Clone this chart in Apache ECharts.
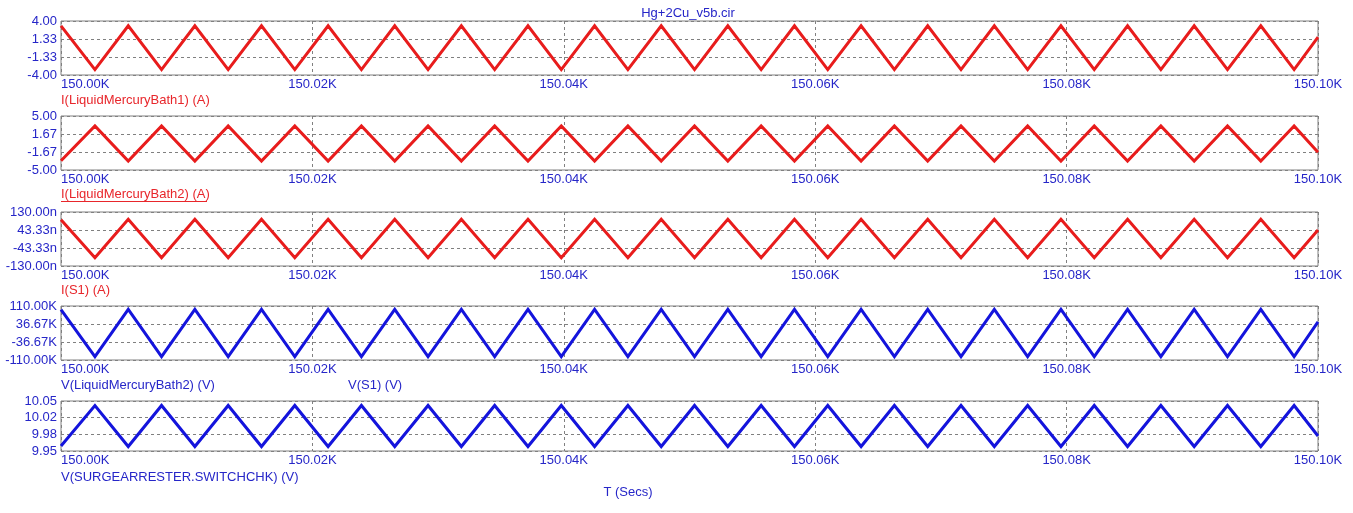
<!DOCTYPE html>
<html>
<head>
<meta charset="utf-8">
<title>Hg+2Cu_v5b.cir</title>
<script src="https://cdn.jsdelivr.net/npm/echarts@6/dist/echarts.min.js"></script>
<style>
  html, body { margin: 0; padding: 0; background: #fff; }
  #chart { width: 1353px; height: 513px; }
</style>
</head>
<body>
<div id="chart"></div>
<script>
/*
 * 数据 (从图上读取的三角波拐点)
 */

// 时间起点 (s) 与各拐点相对时间
var T0 = 150000;
var tOffsets = [
  0, 0.05, 2.70, 5.35, 8.00, 10.65, 13.30, 15.95, 18.60, 21.25,
  23.90, 26.55, 29.20, 31.85, 34.50, 37.15, 39.80, 42.45, 45.10, 47.75,
  50.40, 53.05, 55.70, 58.35, 61.00, 63.65, 66.30, 68.95, 71.60, 74.25,
  76.90, 79.55, 82.20, 84.85, 87.50, 90.15, 92.80, 95.45, 98.10, 100
];

// I(LiquidMercuryBath1) (A)
var iBath1 = [
  3.28, 3.30, -3.20, 3.30, -3.20, 3.30, -3.20, 3.30, -3.20, 3.30,
  -3.20, 3.30, -3.20, 3.30, -3.20, 3.30, -3.20, 3.30, -3.20, 3.30,
  -3.20, 3.30, -3.20, 3.30, -3.20, 3.30, -3.20, 3.30, -3.20, 3.30,
  -3.20, 3.30, -3.20, 3.30, -3.20, 3.30, -3.20, 3.30, -3.20, 1.60
];
// I(LiquidMercuryBath2) (A)
var iBath2 = [
  -3.30, -3.35, 3.15, -3.35, 3.15, -3.35, 3.15, -3.35, 3.15, -3.35,
  3.15, -3.35, 3.15, -3.35, 3.15, -3.35, 3.15, -3.35, 3.15, -3.35,
  3.15, -3.35, 3.15, -3.35, 3.15, -3.35, 3.15, -3.35, 3.15, -3.35,
  3.15, -3.35, 3.15, -3.35, 3.15, -3.35, 3.15, -3.35, 3.15, -1.70
];
// I(S1) (nA)
var iS1 = [
  93, 95, -90, 95, -90, 95, -90, 95, -90, 95,
  -90, 95, -90, 95, -90, 95, -90, 95, -90, 95,
  -90, 95, -90, 95, -90, 95, -90, 95, -90, 95,
  -90, 95, -90, 95, -90, 95, -90, 95, -90, 43
];
// V(LiquidMercuryBath2) (kV)
var vBath2 = [
  95, 96, -96, 96, -96, 96, -96, 96, -96, 96,
  -96, 96, -96, 96, -96, 96, -96, 96, -96, 96,
  -96, 96, -96, 96, -96, 96, -96, 96, -96, 96,
  -96, 96, -96, 96, -96, 96, -96, 96, -96, 45
];
// V(SURGEARRESTER.SWITCHCHK) (V)
var vSwitch = [
  9.960, 9.959, 10.041, 9.959, 10.041, 9.959, 10.041, 9.959, 10.041, 9.959,
  10.041, 9.959, 10.041, 9.959, 10.041, 9.959, 10.041, 9.959, 10.041, 9.959,
  10.041, 9.959, 10.041, 9.959, 10.041, 9.959, 10.041, 9.959, 10.041, 9.959,
  10.041, 9.959, 10.041, 9.959, 10.041, 9.959, 10.041, 9.959, 10.041, 9.980
];

// 刻度
var xMin = 150000;
var xMax = 150100;
var xStep = 20;
var yTicks1 = [-4, -4 / 3, 4 / 3, 4];
var yTicks2 = [-5, -5 / 3, 5 / 3, 5];
var yTicks3 = [-130, -130 / 3, 130 / 3, 130];
var yTicks4 = [-110, -110 / 3, 110 / 3, 110];
var yTicks5 = [9.95, 9.95 + 0.1 / 3, 9.95 + 0.2 / 3, 10.05];

/*
 * 样式
 */
var FONT = '"Liberation Sans", Arial, sans-serif';
var RED = '#e81c1c';
var BLUE = '#1414dc';
var LABEL_BLUE = '#2626c8';
var LABEL_RED = '#e8262b';
var GRID_GRAY = '#808080';

function pairUp(vals) {
  return tOffsets.map(function(t, i) {
    return [T0 + t, vals[i]];
  });
}

function makeGrid(top, height) {
  return {
    left: 61, right: 35, top: top, height: height,
    show: true, borderColor: GRID_GRAY, borderWidth: 1,
    backgroundColor: '#fff'
  };
}

function makeXAxis(idx) {
  return {
    type: 'value', gridIndex: idx,
    min: xMin, max: xMax, interval: xStep,
    axisLine: { show: false },
    axisTick: { show: false },
    splitLine: { show: true, lineStyle: { color: GRID_GRAY, type: [3, 3], width: 1 } },
    axisLabel: {
      margin: 3, color: LABEL_BLUE, fontFamily: FONT, fontSize: 13,
      alignMinLabel: 'left', showMinLabel: true, showMaxLabel: true,
      formatter: function(v) { return (v / 1000).toFixed(2) + 'K'; }
    }
  };
}

function makeYAxis(idx, ticks, suffix) {
  return {
    type: 'value', gridIndex: idx,
    min: ticks[0], max: ticks[ticks.length - 1],
    axisLine: { show: false },
    axisTick: { show: false, customValues: ticks },
    splitLine: { show: true, lineStyle: { color: GRID_GRAY, type: [3, 3], width: 1 } },
    axisLabel: {
      margin: 4, color: LABEL_BLUE, fontFamily: FONT, fontSize: 13,
      customValues: ticks,
      formatter: function(v) { return v.toFixed(2) + suffix; }
    }
  };
}

function makeSeries(idx, name, vals, color) {
  return {
    type: 'line', name: name, xAxisIndex: idx, yAxisIndex: idx,
    data: pairUp(vals), showSymbol: false, symbol: 'none',
    lineStyle: { color: color, width: 3, join: 'miter' },
    animation: false, silent: true
  };
}

function label(text, x, y, color, align) {
  return {
    type: 'text', x: x, y: y, silent: true,
    style: {
      text: text, fill: color, font: '13px ' + FONT,
      align: align || 'left', verticalAlign: 'middle'
    }
  };
}

/**
 * 初始化echarts
 */
function initECharts(el, options) {
  var myEchart = echarts.init(el);
  myEchart.setOption(options);
  return myEchart;
}

var options = {
  animation: false,
  backgroundColor: '#fff',
  grid: [
    makeGrid(21, 54),
    makeGrid(116, 54),
    makeGrid(212, 54),
    makeGrid(306, 54),
    makeGrid(401, 50)
  ],
  xAxis: [makeXAxis(0), makeXAxis(1), makeXAxis(2), makeXAxis(3), makeXAxis(4)],
  yAxis: [
    makeYAxis(0, yTicks1, ''),
    makeYAxis(1, yTicks2, ''),
    makeYAxis(2, yTicks3, 'n'),
    makeYAxis(3, yTicks4, 'K'),
    makeYAxis(4, yTicks5, '')
  ],
  series: [
    makeSeries(0, 'I(LiquidMercuryBath1) (A)', iBath1, RED),
    makeSeries(1, 'I(LiquidMercuryBath2) (A)', iBath2, RED),
    makeSeries(2, 'I(S1) (A)', iS1, RED),
    makeSeries(3, 'V(LiquidMercuryBath2) (V)', vBath2, BLUE),
    makeSeries(4, 'V(SURGEARRESTER.SWITCHCHK) (V)', vSwitch, BLUE)
  ],
  graphic: [
    label('Hg+2Cu_v5b.cir', 688, 13, LABEL_BLUE, 'center'),
    label('I(LiquidMercuryBath1) (A)', 61, 100, LABEL_RED),
    label('I(LiquidMercuryBath2) (A)', 61, 194, LABEL_RED),
    {
      type: 'line', silent: true,
      shape: { x1: 61, y1: 201.5, x2: 207, y2: 201.5 },
      style: { stroke: LABEL_RED, lineWidth: 1 }
    },
    label('I(S1) (A)', 61, 290, LABEL_RED),
    label('V(LiquidMercuryBath2) (V)', 61, 385, LABEL_BLUE),
    label('V(S1) (V)', 348, 385, LABEL_BLUE),
    label('V(SURGEARRESTER.SWITCHCHK) (V)', 61, 477, LABEL_BLUE),
    label('T (Secs)', 628, 492, LABEL_BLUE, 'center')
  ]
};

initECharts(document.getElementById('chart'), options);
</script>
</body>
</html>
